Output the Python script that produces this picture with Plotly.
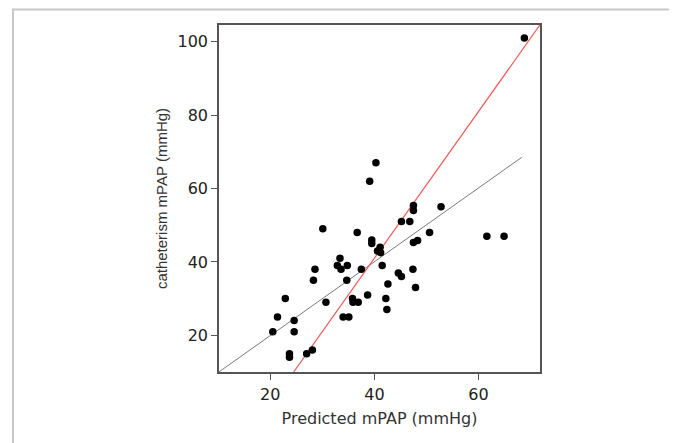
import plotly.graph_objects as go

# Scatter data: predicted vs catheterism mPAP (mmHg)
predicted = [20.5, 21.4, 22.9, 24.6, 24.6, 23.7, 23.7, 27.0, 28.1, 28.3, 28.6, 30.1,
             30.7, 33.4, 32.9, 33.6, 34.8, 34.7, 34.0, 35.1, 35.8, 35.9, 36.9, 36.7,
             37.5, 38.7, 39.1, 40.3, 39.5, 39.5, 40.6, 41.1, 41.2, 41.5, 42.2, 42.6,
             42.4, 44.6, 45.2, 45.2, 46.8, 47.5, 47.5, 47.5, 48.3, 47.4, 47.9, 50.6,
             52.8, 61.6, 64.9, 68.8]
catheterism = [21, 25, 30, 24, 21, 15, 14, 15, 16, 35, 38, 49,
               29, 41, 39, 38, 39, 35, 25, 25, 30, 29, 29, 48,
               38, 31, 62, 67, 46, 45, 43, 44, 42.5, 39, 30, 34,
               27, 37, 36, 51, 51, 55.4, 54, 45.3, 45.8, 38, 33, 48,
               55, 47, 47, 101]

# Reference lines (endpoints)
gray_x = [10.0, 68.3]
gray_y = [9.85, 68.5]
red_x = [24.5, 72.5]
red_y = [10.0, 106.0]

x_ticks = [20, 40, 60]
y_ticks = [20, 40, 60, 80, 100]

fig = go.Figure()
fig.add_trace(go.Scatter(x=gray_x, y=gray_y, mode="lines",
                         line=dict(color="#7a7a7a", width=1), showlegend=False))
fig.add_trace(go.Scatter(x=red_x, y=red_y, mode="lines",
                         line=dict(color="#ee5a55", width=1.2), showlegend=False))
fig.add_trace(go.Scatter(x=predicted, y=catheterism, mode="markers",
                         marker=dict(color="black", size=7.5, line=dict(width=0)),
                         showlegend=False))

axis_common = dict(showline=True, linecolor="#555555", linewidth=1.5, mirror=True,
                   ticks="outside", ticklen=6, tickcolor="#555555", tickwidth=1,
                   showgrid=False, zeroline=False,
                   tickfont=dict(family="DejaVu Sans", size=16, color="#222222"))

fig.update_xaxes(range=[10.17, 71.8], tickvals=x_ticks, **axis_common,
                 ticklabelstandoff=1,
                 title=dict(text="Predicted mPAP (mmHg)", standoff=10,
                            font=dict(family="DejaVu Sans", size=16, color="#333333")))
fig.update_yaxes(range=[10, 104.55], tickvals=y_ticks, **axis_common,
                 title=dict(text="catheterism mPAP (mmHg)", standoff=6,
                            font=dict(family="Liberation Sans Narrow, Liberation Sans", size=15,
                                      color="#333333")))

fig.add_shape(type="rect", xref="paper", yref="paper",
              x0=-0.6417, x1=1.4237, y0=-0.3, y1=1.045,
              line=dict(color="#c8c8c8", width=2), fillcolor="rgba(0,0,0,0)", layer="below")

fig.update_layout(width=669, height=435, paper_bgcolor="white", plot_bgcolor="white",
                  margin=dict(l=211, r=137, t=17, b=71))

fig.write_html("out.html")
